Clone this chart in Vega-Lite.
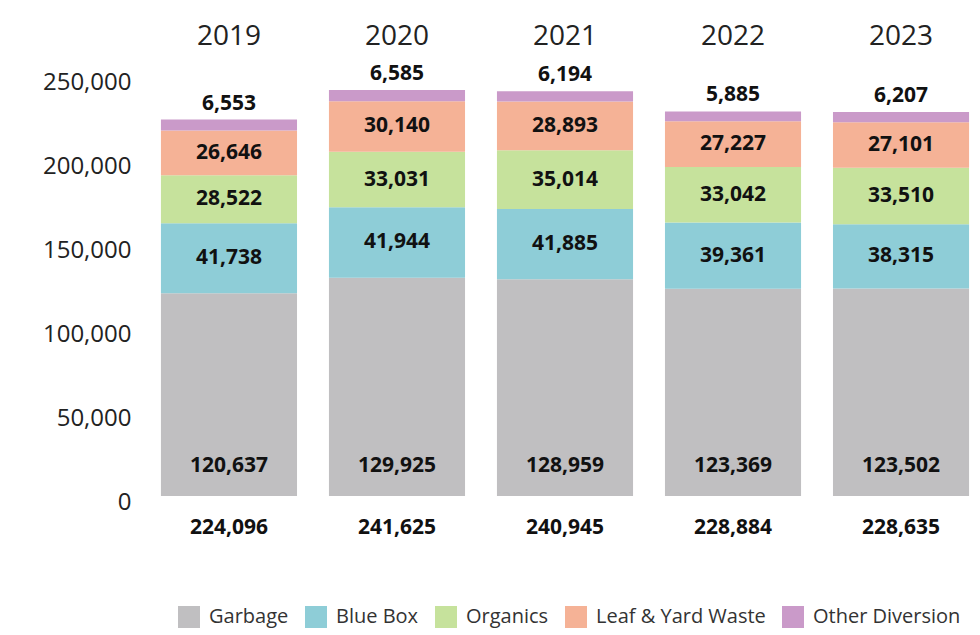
{
  "$schema": "https://vega.github.io/schema/vega-lite/v6.json",
  "width": 834,
  "height": 420,
  "autosize": {"type": "none"},
  "padding": {"left": 148, "top": 76, "right": 0, "bottom": 139},
  "background": "white",
  "config": {"view": {"stroke": null}, "font": "Open Sans"},
  "datasets": {
    "waste": [
      {"year": "2019", "category": "Garbage", "order": 1, "value": 120637},
      {"year": "2019", "category": "Blue Box", "order": 2, "value": 41738},
      {"year": "2019", "category": "Organics", "order": 3, "value": 28522},
      {"year": "2019", "category": "Leaf & Yard Waste", "order": 4, "value": 26646},
      {"year": "2019", "category": "Other Diversion", "order": 5, "value": 6553},
      {"year": "2020", "category": "Garbage", "order": 1, "value": 129925},
      {"year": "2020", "category": "Blue Box", "order": 2, "value": 41944},
      {"year": "2020", "category": "Organics", "order": 3, "value": 33031},
      {"year": "2020", "category": "Leaf & Yard Waste", "order": 4, "value": 30140},
      {"year": "2020", "category": "Other Diversion", "order": 5, "value": 6585},
      {"year": "2021", "category": "Garbage", "order": 1, "value": 128959},
      {"year": "2021", "category": "Blue Box", "order": 2, "value": 41885},
      {"year": "2021", "category": "Organics", "order": 3, "value": 35014},
      {"year": "2021", "category": "Leaf & Yard Waste", "order": 4, "value": 28893},
      {"year": "2021", "category": "Other Diversion", "order": 5, "value": 6194},
      {"year": "2022", "category": "Garbage", "order": 1, "value": 123369},
      {"year": "2022", "category": "Blue Box", "order": 2, "value": 39361},
      {"year": "2022", "category": "Organics", "order": 3, "value": 33042},
      {"year": "2022", "category": "Leaf & Yard Waste", "order": 4, "value": 27227},
      {"year": "2022", "category": "Other Diversion", "order": 5, "value": 5885},
      {"year": "2023", "category": "Garbage", "order": 1, "value": 123502},
      {"year": "2023", "category": "Blue Box", "order": 2, "value": 38315},
      {"year": "2023", "category": "Organics", "order": 3, "value": 33510},
      {"year": "2023", "category": "Leaf & Yard Waste", "order": 4, "value": 27101},
      {"year": "2023", "category": "Other Diversion", "order": 5, "value": 6207}
    ],
    "totals": [
      {"year": "2019", "total": 224096},
      {"year": "2020", "total": 241625},
      {"year": "2021", "total": 240945},
      {"year": "2022", "total": 228884},
      {"year": "2023", "total": 228635}
    ]
  },
  "encoding": {
    "x": {
      "field": "year",
      "type": "nominal",
      "sort": ["2019", "2020", "2021", "2022", "2023"],
      "scale": {"paddingInner": 0.19, "paddingOuter": 0.077},
      "axis": {
        "orient": "top",
        "title": null,
        "domain": false,
        "ticks": false,
        "labelAngle": 0,
        "labelFontSize": 28,
        "labelColor": "#222222",
        "labelPadding": 26,
        "labelFont": "Open Sans"
      }
    }
  },
  "layer": [
    {
      "data": {"name": "waste"},
      "transform": [
        {"stack": "value", "groupby": ["year"], "sort": [{"field": "order", "order": "ascending"}], "as": ["y0", "y1"]}
      ],
      "mark": {"type": "bar"},
      "encoding": {
        "y": {
          "field": "y0",
          "type": "quantitative",
          "title": null,
          "scale": {"domain": [0, 250000], "nice": false},
          "axis": {
            "title": null, "domain": false, "ticks": false, "grid": false,
            "values": [0, 50000, 100000, 150000, 200000, 250000],
            "labelExpr": "format(datum.value, ',')", "labelFontSize": 24, "labelColor": "#222222",
            "labelPadding": 17, "labelOffset": 6, "labelFont": "Open Sans"
          }
        },
        "y2": {"field": "y1"},
        "color": {
          "field": "category",
          "type": "nominal",
          "scale": {
            "domain": ["Garbage", "Blue Box", "Organics", "Leaf & Yard Waste", "Other Diversion"],
            "range": ["#c0bfc1", "#8ecdd7", "#c6e29c", "#f5b296", "#ca9ac9"]
          },
          "legend": {
            "orient": "none",
            "direction": "horizontal",
            "legendX": 30,
            "legendY": 530,
            "title": null,
            "symbolType": "square",
            "symbolSize": 484,
            "symbolStrokeWidth": 0,
            "labelFontSize": 20,
            "labelLimit": 400,
            "labelColor": "#333333",
            "labelFont": "Open Sans",
            "labelOffset": 9,
            "columnPadding": 16
          }
        },
        "order": {"field": "order"}
      }
    },
    {
      "data": {"name": "waste"},
      "transform": [
        {"stack": "value", "groupby": ["year"], "sort": [{"field": "order", "order": "ascending"}], "as": ["y0", "y1"]},
        {"filter": "datum.category !== 'Garbage' && datum.category !== 'Other Diversion'"},
        {"calculate": "(datum.y0 + datum.y1) / 2", "as": "mid"}
      ],
      "mark": {"type": "text", "fontWeight": "bold", "fontSize": 21, "color": "#111111", "baseline": "middle", "font": "Open Sans"},
      "encoding": {
        "y": {
          "field": "mid", "type": "quantitative", "title": null,
          "axis": {
            "title": null, "domain": false, "ticks": false, "grid": false,
            "values": [0, 50000, 100000, 150000, 200000, 250000],
            "labelExpr": "format(datum.value, ',')", "labelFontSize": 24, "labelColor": "#222222",
            "labelPadding": 17, "labelOffset": 6, "labelFont": "Open Sans"
          }
        },
        "text": {"field": "value", "type": "quantitative", "format": ","}
      }
    },
    {
      "data": {"name": "waste"},
      "transform": [
        {"filter": "datum.category === 'Garbage'"}
      ],
      "mark": {"type": "text", "fontWeight": "bold", "fontSize": 21, "color": "#111111", "baseline": "middle", "dy": -30, "font": "Open Sans"},
      "encoding": {
        "y": {
          "datum": 0, "type": "quantitative", "title": null,
          "axis": {
            "title": null, "domain": false, "ticks": false, "grid": false,
            "values": [0, 50000, 100000, 150000, 200000, 250000],
            "labelExpr": "format(datum.value, ',')", "labelFontSize": 24, "labelColor": "#222222",
            "labelPadding": 17, "labelOffset": 6, "labelFont": "Open Sans"
          }
        },
        "text": {"field": "value", "type": "quantitative", "format": ","}
      }
    },
    {
      "data": {"name": "waste"},
      "transform": [
        {"stack": "value", "groupby": ["year"], "sort": [{"field": "order", "order": "ascending"}], "as": ["y0", "y1"]},
        {"filter": "datum.category === 'Other Diversion'"}
      ],
      "mark": {"type": "text", "fontWeight": "bold", "fontSize": 21, "color": "#111111", "baseline": "middle", "dy": -16, "font": "Open Sans"},
      "encoding": {
        "y": {
          "field": "y1", "type": "quantitative", "title": null,
          "axis": {
            "title": null, "domain": false, "ticks": false, "grid": false,
            "values": [0, 50000, 100000, 150000, 200000, 250000],
            "labelExpr": "format(datum.value, ',')", "labelFontSize": 24, "labelColor": "#222222",
            "labelPadding": 17, "labelOffset": 6, "labelFont": "Open Sans"
          }
        },
        "text": {"field": "value", "type": "quantitative", "format": ","}
      }
    },
    {
      "data": {"name": "totals"},
      "mark": {"type": "text", "fontWeight": "bold", "fontSize": 21, "color": "#111111", "baseline": "middle", "dy": 32, "font": "Open Sans"},
      "encoding": {
        "y": {
          "datum": 0, "type": "quantitative", "title": null,
          "axis": {
            "title": null, "domain": false, "ticks": false, "grid": false,
            "values": [0, 50000, 100000, 150000, 200000, 250000],
            "labelExpr": "format(datum.value, ',')", "labelFontSize": 24, "labelColor": "#222222",
            "labelPadding": 17, "labelOffset": 6, "labelFont": "Open Sans"
          }
        },
        "text": {"field": "total", "type": "quantitative", "format": ","}
      }
    }
  ]
}
